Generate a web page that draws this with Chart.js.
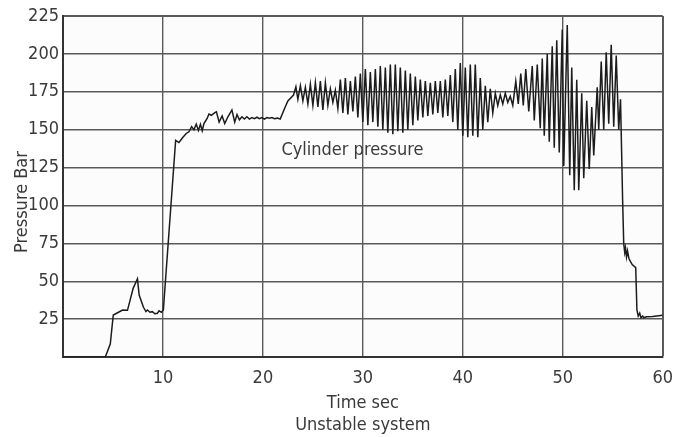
<!DOCTYPE html>
<html>
<head>
<meta charset="utf-8">
<script src="https://cdn.jsdelivr.net/npm/chart.js@4.4.1/dist/chart.umd.min.js"></script>
<style>
    html, body { margin: 0; padding: 0; background: #ffffff; }
    #wrap { width: 684px; height: 437px; }
</style>
</head>
<body>
<div id="wrap"><canvas id="grafica"></canvas></div>
<script>
// Tiempo (s)
const timeSec = [
    0, 4.23, 4.73, 5.03, 5.46, 5.96, 6.45, 7.02, 7.45, 7.62, 8.05, 8.3, 8.45, 8.7, 8.94, 9.2, 9.44, 9.61, 9.85, 10.04,
    11.27, 11.6, 12.0, 12.33, 12.6, 12.87, 13.1, 13.33, 13.55, 13.75, 13.93, 14.1, 14.42, 14.6, 14.85, 15.19, 15.35,
    15.62, 15.92, 16.18, 16.5, 16.9, 17.18, 17.41, 17.65, 17.9, 18.15, 18.4, 18.65, 18.9, 19.15, 19.4, 19.65, 19.9,
    20.15, 20.4, 20.65, 20.9, 21.15, 21.45, 21.73, 22.23, 22.5, 22.73, 23.06,
    23.3, 23.5, 23.75, 24.0, 24.25, 24.5, 24.75, 25.0, 25.25, 25.5, 25.75, 26.0, 26.25, 26.5, 26.75, 27.0, 27.25, 27.5,
    27.75, 28.0, 28.25, 28.5, 28.75, 29.0, 29.25, 29.5, 29.75, 30.0, 30.25, 30.5, 30.75, 31.0, 31.25, 31.5, 31.75,
    32.0, 32.25, 32.5, 32.75, 33.0, 33.25, 33.5, 33.75, 34.0, 34.25, 34.5, 34.75, 35.0, 35.25, 35.5, 35.75, 36.0,
    36.25, 36.5, 36.75, 37.0, 37.25, 37.5, 37.75, 38.0, 38.25, 38.5, 38.75, 39.0, 39.25, 39.5, 39.75, 40.0, 40.25,
    40.5, 40.75, 41.0, 41.25, 41.5, 41.75, 42.0, 42.25, 42.5, 42.75, 43.0, 43.25, 43.5, 43.75, 44.0, 44.25, 44.5,
    44.75, 45.0, 45.3, 45.55, 45.8, 46.05, 46.3, 46.6, 46.95, 47.15, 47.45, 47.75, 47.95, 48.15, 48.45, 48.65, 48.95,
    49.15, 49.4, 49.65, 49.95, 50.1, 50.45, 50.7, 50.9, 51.15, 51.4, 51.6, 51.9, 52.1, 52.4, 52.65, 52.9, 53.1, 53.45,
    53.6, 53.85, 54.1, 54.35, 54.6, 54.85, 55.1, 55.35, 55.6, 55.78,
    55.99, 56.1, 56.2, 56.28, 56.38, 56.48, 56.62, 56.78, 56.95, 57.3, 57.42, 57.55, 57.7, 57.82, 58.0, 58.1, 58.4,
    59.0, 60.0
];

// Presión del cilindro (bar) para cada instante
const pressureBar = [
    0, 0, 8.6, 27.7, 29.2, 31, 30.8, 45.3, 51.6, 40.9, 32.8, 30, 31, 29.5, 29.9, 28.5, 28.8, 30.5, 29.5, 31,
    143, 141.5, 145, 147.5, 148.6, 152, 150, 153.7, 149.5, 153.5, 149.3, 154, 157.4, 160.3, 159.5, 161.2, 161.8,
    155, 159, 154, 158.5, 163, 155, 160, 156.5, 158.5, 157, 158.5, 157, 158, 157.3, 158.2, 157.2, 158,
    157, 158, 157.5, 158, 157.2, 157.6, 157, 165, 169, 170.6, 172.8,
    178.3, 170, 179, 169, 178, 167, 180, 166, 181, 165, 182, 163, 181, 166, 177, 168, 176, 164,
    183, 161, 184, 160, 182, 162, 185, 158, 187, 155, 190, 153, 188, 155, 190, 152, 192,
    150, 191, 148, 193, 147, 193, 149, 191, 148, 189, 150, 187, 153, 185, 156, 183, 158,
    182, 159, 181, 160, 182, 161, 182, 158, 183, 159, 186, 155, 190, 150, 194, 146, 191,
    145, 193, 146, 193, 145, 184, 150, 179, 155, 177, 161, 174, 166, 173, 167, 174, 168,
    172, 166, 182, 167, 187, 166, 190, 162, 192, 156, 193, 151, 197, 146, 200, 142, 205,
    138, 209, 135, 216, 126, 219, 120, 191, 110, 183, 110, 174, 118, 169, 124, 165, 133, 178,
    150, 195, 150, 201, 154, 206, 152, 199, 150, 170,
    103.6, 75, 69, 72, 66, 70, 65, 63, 61, 59, 31, 27, 29, 26, 27, 26, 26.5,
    26.8, 27.5
];

// Textos de la gráfica
const xTitle = ["Time sec", "Unstable system"];
const yTitle = "Pressure Bar";
const seriesLabel = "Cylinder pressure";

// Posición de la etiqueta de la serie (en unidades de datos)
const labelTime = 21.85;
const labelPressure = 133;

const fontFamily = "'Liberation Sans Narrow', 'DejaVu Sans Condensed', 'Arial Narrow', sans-serif";
const fontSize = 18;
const textColor = "#3a3a3a";
const gridColor = "#5a5a5a";

const points = timeSec.map((t, i) => ({ x: t, y: pressureBar[i] }));

// Fondo del área de trazado
const plotBackground = {
    id: "plotBackground",
    beforeDraw(chart) {
        const { ctx, chartArea } = chart;
        ctx.save();
        ctx.fillStyle = "#fcfcfc";
        ctx.fillRect(chartArea.left, chartArea.top, chartArea.right - chartArea.left, chartArea.bottom - chartArea.top);
        ctx.restore();
    }
};

// Etiqueta dentro de la gráfica y título del eje Y
const extraText = {
    id: "extraText",
    afterDraw(chart) {
        const ctx = chart.ctx;
        const x = chart.scales.x.getPixelForValue(labelTime);
        const y = chart.scales.y.getPixelForValue(labelPressure);

        ctx.save();
        ctx.fillStyle = textColor;
        ctx.font = fontSize + "px " + fontFamily;
        ctx.textAlign = "left";
        ctx.textBaseline = "alphabetic";
        ctx.fillText(seriesLabel, x, y);

        // Título vertical del eje Y
        ctx.translate(27, 202);
        ctx.rotate(-Math.PI / 2);
        ctx.textAlign = "center";
        ctx.fillText(yTitle, 0, 0);
        ctx.restore();
    }
};

new Chart(document.getElementById("grafica"), {
    type: "line",
    data: {
        datasets: [{
            label: seriesLabel,
            data: points,
            borderColor: "#1c1c1c",
            borderWidth: 1.5,
            pointRadius: 0,
            tension: 0,
            fill: false
        }]
    },
    options: {
        responsive: true,
        maintainAspectRatio: false,
        animation: false,
        devicePixelRatio: 1,
        layout: {
            padding: { top: 16, right: 18, left: 0, bottom: 0 }
        },
        plugins: {
            legend: { display: false },
            tooltip: { enabled: false }
        },
        scales: {
            x: {
                type: "linear",
                min: 0,
                max: 60,
                afterFit(scale) { scale.height = 80; },
                ticks: {
                    stepSize: 10,
                    maxRotation: 0,
                    padding: 11,
                    color: textColor,
                    font: { family: fontFamily, size: fontSize },
                    callback: (v) => v === 0 ? "" : v
                },
                grid: {
                    color: gridColor,
                    lineWidth: (c) => c.tick && c.tick.value === 60 ? 2 : 1.4,
                    drawTicks: false
                },
                border: { color: "#333333", width: 2 },
                title: {
                    display: true,
                    text: xTitle,
                    color: textColor,
                    font: { family: fontFamily, size: fontSize, lineHeight: 1.22 },
                    padding: { top: 0, bottom: 1 }
                }
            },
            y: {
                min: 0,
                max: 225,
                afterFit(scale) { scale.width = 63; },
                ticks: {
                    stepSize: 25,
                    padding: 4,
                    color: textColor,
                    font: { family: fontFamily, size: fontSize },
                    callback: (v) => v === 0 ? "" : v
                },
                grid: {
                    color: gridColor,
                    lineWidth: (c) => c.tick && c.tick.value === 225 ? 2 : 1.4,
                    drawTicks: false
                },
                border: { color: "#333333", width: 2 }
            }
        }
    },
    plugins: [plotBackground, extraText]
});
</script>
</body>
</html>
